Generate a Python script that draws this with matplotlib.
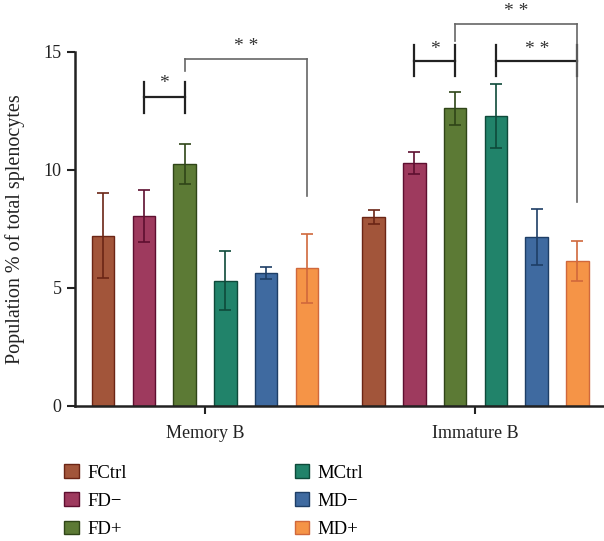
import numpy as np
import matplotlib.pyplot as plt

plt.rcParams['font.family'] = ['Liberation Serif', 'DejaVu Serif']

groups = ['Memory B', 'Immature B']
series = ['FCtrl', 'FD−', 'FD+', 'MCtrl', 'MD−', 'MD+']
means = {
    'FCtrl': [7.2, 8.0],
    'FD−': [8.05, 10.28],
    'FD+': [10.25, 12.61],
    'MCtrl': [5.3, 12.28],
    'MD−': [5.62, 7.15],
    'MD+': [5.82, 6.12],
}
errs = {
    'FCtrl': [1.8, 0.3],
    'FD−': [1.1, 0.45],
    'FD+': [0.85, 0.7],
    'MCtrl': [1.25, 1.35],
    'MD−': [0.25, 1.2],
    'MD+': [1.45, 0.85],
}
fills = ['#A2553A', '#9E3A5E', '#5C7A35', '#21836A', '#3F6AA0', '#F59447']
edges = ['#6B2515', '#5E0F30', '#2F4518', '#0E4A3A', '#1E3E66', '#D0683C']

group_x = np.array([0.0, 6.63])
bar_w = 0.55

fig = plt.figure(figsize=(6.04, 5.41), dpi=100)
ax = fig.add_axes([0.124, 0.25, 0.876, 0.6545])

for i, s in enumerate(series):
    x = group_x + (i - 2.5)
    ax.bar(x, means[s], width=bar_w, color=fills[i], edgecolor=edges[i],
           linewidth=1.0, label=s, zorder=2)
    ax.errorbar(x, means[s], yerr=errs[s], fmt='none', ecolor=edges[i],
                elinewidth=1.2, capsize=4.5, capthick=1.2, zorder=3)


def bar_x(g, i):
    return group_x[g] + (i - 2.5)


def bracket(x1, x2, y, lo1, lo2, hi, text, color, lw, ty):
    ax.plot([x1, x2], [y, y], color=color, lw=lw, clip_on=False, zorder=4)
    ax.plot([x1, x1], [lo1, hi if hi else y], color=color, lw=lw, clip_on=False, zorder=4)
    ax.plot([x2, x2], [lo2, hi if hi else y], color=color, lw=lw, clip_on=False, zorder=4)
    ax.text((x1 + x2) / 2, ty, text, ha='center', va='center', fontsize=14,
            color='#333333', clip_on=False)


# short black brackets with ticks on both sides
bracket(bar_x(0, 1), bar_x(0, 2), 13.06, 12.4, 12.4, 13.7, '*', '#222222', 1.6, 13.65)
bracket(bar_x(1, 1), bar_x(1, 2), 14.62, 13.97, 13.97, 15.3, '*', '#222222', 1.6, 15.1)
bracket(bar_x(1, 3), bar_x(1, 5), 14.62, 13.97, 13.97, 15.3, '* *', '#222222', 1.6, 15.1)
# long gray brackets
bracket(bar_x(0, 2), bar_x(0, 5), 14.67, 14.16, 8.89, None, '* *', '#666666', 1.2, 15.2)
bracket(bar_x(1, 2), bar_x(1, 5), 16.19, 15.47, 8.64, None, '* *', '#666666', 1.2, 16.7)

ax.set_ylim(0, 15)
ax.set_xlim(-3.19, 9.78)
ax.set_yticks([0, 5, 10, 15])
ax.set_xticks(group_x)
ax.set_xticklabels(groups)
ax.tick_params(axis='both', labelsize=13, width=1.5, length=6, colors='#222222')
ax.tick_params(axis='x', pad=8)
for side in ['top', 'right']:
    ax.spines[side].set_visible(False)
for side in ['left', 'bottom']:
    ax.spines[side].set_linewidth(1.8)
    ax.spines[side].set_color('#222222')
ax.set_ylabel('Population % of total splenocytes', fontsize=14.5, color='#222222')
ax.yaxis.set_label_coords(-0.095, 0.5)

fig.legend(loc='upper left', bbox_to_anchor=(0.085, 0.166), ncol=2, frameon=False,
           fontsize=13.5, handlelength=0.75, handleheight=0.75, handletextpad=0.45,
           columnspacing=9.0, labelspacing=0.57, borderpad=0.2)

fig.savefig('out.png', dpi=100)
